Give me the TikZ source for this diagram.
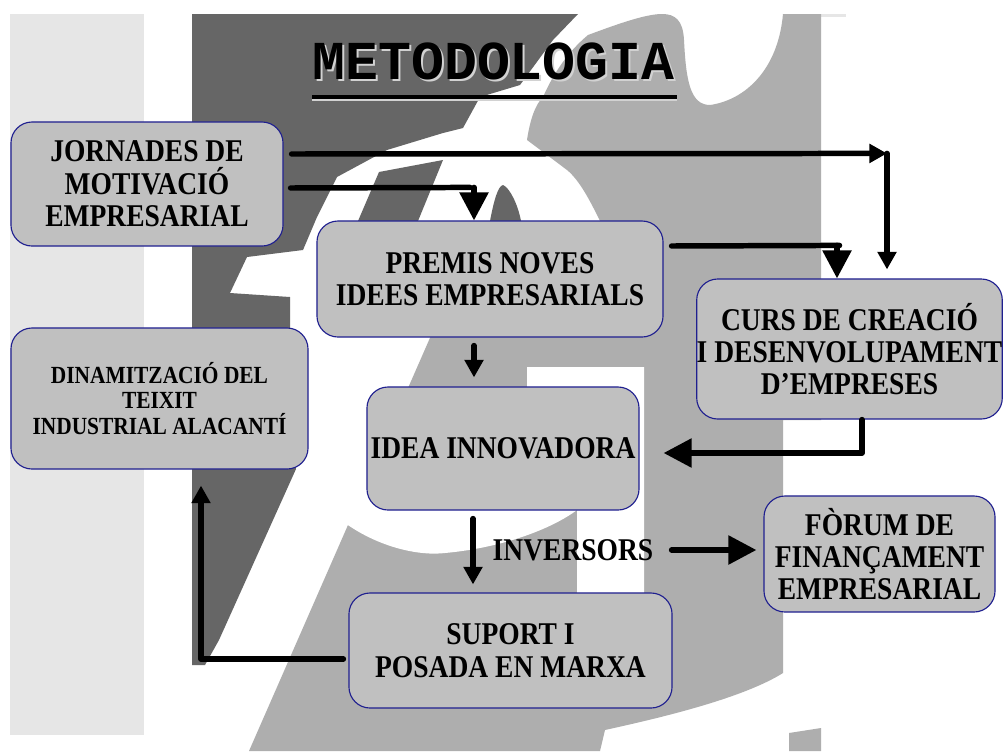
\documentclass[tikz,border=0pt]{standalone}
\usepackage{fontspec}
\setmainfont{Liberation Serif}[FakeStretch=0.87]
\newfontfamily\titlefont{Liberation Mono}
\usepackage{tikz}
\usetikzlibrary{calc,arrows.meta}

\definecolor{lightgrey}{HTML}{E6E6E6}
\definecolor{darkgrey}{HTML}{666666}
\definecolor{midgrey}{HTML}{AEAEAE}
\definecolor{boxgrey}{HTML}{C0C0C0}
\definecolor{boxline}{HTML}{1F1F8F}
\definecolor{shadowgrey}{HTML}{D2D2D2}

\tikzset{
  box/.style={draw=boxline, fill=boxgrey, line width=0.8pt, rounded corners=15pt,
    align=center, inner sep=0pt, font=\bfseries\fontsize{22.5}{23}\selectfont},
  conn/.style={line width=3.9pt, line cap=round, line join=round},
  bighead/.style={-{Triangle[width=20pt,length=20pt]}},
  smallhead/.style={-{Triangle[width=13pt,length=12.5pt]}},
}

\begin{document}
\begin{tikzpicture}[x=0.025cm,y=-0.025cm]
\useasboundingbox (0,0) rectangle (1004,751);
\fill[white] (0,0) rectangle (1004,751);
% background logo
\fill[lightgrey] (10,14) rectangle (144,735);
\fill[lightgrey] (821,14) rectangle (846,17);
\fill[darkgrey] (192,14) -- (578,14) -- (553,40) -- (520,85) -- (480,97) -- (463,128)
  -- (443,133) -- (387,150) -- (337,177) -- (317,217) -- (303,250) -- (247,257)
  -- (230,293) -- (290,297) -- (290,330) -- (296,469) -- (219,640) -- (205,665)
  -- (192,665) -- cycle;
\fill[darkgrey] (358,221) -- (379,172) -- (443,160) -- (418,221) -- cycle;
\fill[darkgrey] (490,221) .. controls (494,200) and (498,186) .. (503,185)
  .. controls (510,188) and (518,205) .. (521,221) -- cycle;
\fill[midgrey] (588,35) .. controls (615,25) and (645,14) .. (662,14)
  .. controls (675,14) and (683,20) .. (684,40) .. controls (686,80) and (690,105) .. (710,105)
  .. controls (745,100) and (778,70) .. (783,14) -- (821,14) -- (821,420) -- (783,420)
  -- (783,673) .. controls (740,700) and (650,720) .. (605,730) -- (600,751) -- (249,751)
  -- (440,315) -- (600,221) .. controls (585,190) and (575,175) .. (563,167) -- (527,140)
  .. controls (530,120) and (535,105) .. (543,97) .. controls (555,70) and (570,50) .. (588,35)
  -- cycle;
\fill[midgrey] (789,733) -- (821,728) -- (821,751) -- (789,751) -- cycle;
\fill[white] (345,505) -- (345,523) .. controls (380,548) and (420,556) .. (445,553)
  .. controls (500,548) and (550,530) .. (577,510) -- (577,593) -- (644,593) -- (644,367)
  -- (527,367) -- (527,400) -- (380,400) -- cycle;

% title
\node[inner sep=0pt, text=shadowgrey, font=\titlefont\bfseries\fontsize{39}{39}\selectfont]
  (titleshadow) at (495.5,63.7) {METODOLOGIA};
\node[inner sep=0pt, font=\titlefont\bfseries\fontsize{39}{39}\selectfont]
  (title) at (493.5,61.7) {METODOLOGIA};
\draw[shadowgrey, line width=1.5pt] ($(title.south west)+(0,19)$) -- ($(title.south east)+(2,19)$);
\draw[line width=2.8pt] ($(title.south west)+(0,16)$) -- ($(title.south east)+(2,16)$);

% boxes
\node[box, minimum width=6.8cm, minimum height=3.1cm] (jor) at (147,184)
  {JORNADES DE\\MOTIVACIÓ\\EMPRESARIAL};
\node[box, minimum width=8.65cm, minimum height=2.9cm] (prem) at (490,279)
  {PREMIS NOVES\\IDEES EMPRESARIALS};
\node[box, minimum width=7.625cm, minimum height=3.5cm] (curs) at (849.5,349)
  {CURS DE CREACIÓ\\I DESENVOLUPAMENT\\D’EMPRESES};
\node[box, minimum width=7.425cm, minimum height=3.525cm,
  font=\bfseries\fontsize{17.5}{18.4}\selectfont] (din) at (159.5,398.5)
  {DINAMITZACIÓ DEL\\TEIXIT\\INDUSTRIAL ALACANTÍ};
\node[box, minimum width=6.8cm, minimum height=3.075cm] (idea) at (503,448.5)
  {IDEA INNOVADORA};
\node[box, minimum width=5.775cm, minimum height=2.9cm] (forum) at (879.5,554)
  {FÒRUM DE\\FINANÇAMENT\\EMPRESARIAL};
\node[box, minimum width=8.075cm, minimum height=2.875cm] (sup) at (510.5,650.5)
  {SUPORT I\\POSADA EN MARXA};
\node[inner sep=0pt, font=\bfseries\fontsize{22.5}{23}\selectfont] (inv) at (573,550) {INVERSORS};

% connectors
\coordinate (jc) at ($(curs.north)+(37.5,-125)$);
\draw[conn,smallhead] ($(jor.east)+(8,-30)$) -- (jc);
\draw[conn,smallhead] (jc) -- ($(curs.north)+(37.5,-9)$);
\draw[conn] ($(jor.east)+(7,4)$) -- ($(prem.north)+(-20,-33)$);
\draw[conn,bighead] ($(prem.north)+(-16,-33)$) -- ($(prem.north)+(-16,0)$);
\draw[conn] ($(prem.east)+(8,-33)$) -- ($(curs.north)+(-10,-33)$);
\draw[conn,bighead] ($(curs.north)+(-12.5,-33)$) -- ($(curs.north)+(-12.5,0)$);
\draw[conn,smallhead] ($(prem.south)+(-16,8)$) -- ($(idea.north)+(-29,-9)$);
\draw[conn,bighead] ($(curs.south)+(12.5,0)$) |- ($(idea.east)+(24,4.5)$);
\draw[conn,smallhead] ($(idea.south)+(-30,8)$) -- ($(sup.north)+(-37.5,-8)$);
\draw[conn,bighead] ($(inv.east)+(18,0)$) -- ($(inv.east -| forum.west)+(-7,0)$);
\draw[conn,smallhead] ($(sup.west)+(-5,8.5)$) -| ($(din.south)+(41.5,16)$);
\end{tikzpicture}
\end{document}
